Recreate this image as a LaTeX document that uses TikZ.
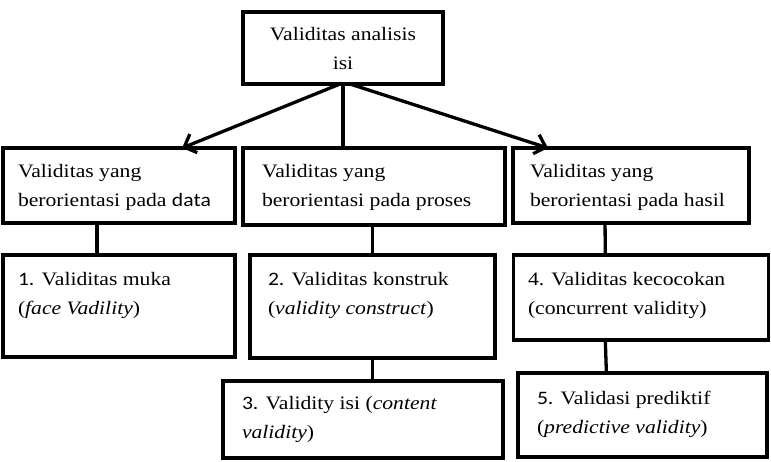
\documentclass[tikz,border=0pt]{standalone}
\usepackage{fontspec}
\setmainfont[FakeStretch=1.14]{Liberation Serif}
\newfontfamily\calfont[FakeStretch=1.14]{Carlito}
\usetikzlibrary{arrows.meta,calc}
\tikzset{
  box/.style={draw, line width=3.3pt, inner sep=0pt, outer sep=0pt},
  txt/.style={inner sep=0pt, outer sep=0pt, align=left, font=\fontsize{19}{29}\selectfont},
  link/.style={line width=3.3pt},
  arr/.style={line width=3.3pt, -{Straight Barb[length=10pt,width=20pt,line width=3.3pt]}}
}
\begin{document}
\begin{tikzpicture}[x=1pt,y=-1pt]
\useasboundingbox (0,0) rectangle (771,462);
% boxes
\node[box, minimum width=200, minimum height=72] (top) at (343,48) {};
\node[box, minimum width=232, minimum height=75] (d) at (119,185.5) {};
\node[box, minimum width=262, minimum height=77] (p) at (374,186.5) {};
\node[box, minimum width=236, minimum height=75] (h) at (631,185.5) {};
\node[box, minimum width=232, minimum height=102] (b1) at (119,306) {};
\node[box, minimum width=245, minimum height=103] (b2) at (372.5,306.5) {};
\node[box, minimum width=280, minimum height=77] (b3) at (363,419.5) {};
\node[box, minimum width=255, minimum height=85] (b4) at (641,297.5) {};
\node[box, minimum width=249, minimum height=84] (b5) at (642.5,415) {};
% texts (anchor = baseline of last line)
\node[txt, align=center, anchor=base] (ttop) at (343,70) {Validitas analisis\\isi};
\node[txt, anchor=base west] (td) at (18,207) {Validitas yang\\berorientasi pada {\calfont data}};
\node[txt, anchor=base west] (tp) at (262,207) {Validitas yang\\berorientasi pada proses};
\node[txt, anchor=base west] (th) at (530,207) {Validitas yang\\berorientasi pada hasil};
\node[txt, anchor=base west] (t1) at (18,315) {{\calfont 1.} Validitas muka\\(\textit{face Vadility})};
\node[txt, anchor=base west] (t2) at (268,315) {{\calfont 2.} Validitas konstruk\\(\textit{validity construct})};
\node[txt, anchor=base west] (t3) at (242,438) {{\calfont 3.} Validity isi (\textit{content}\\\textit{validity})};
\node[txt, anchor=base west] (t4) at (528,315) {4. Validitas kecocokan\\(concurrent validity)};
\node[txt, anchor=base west] (t5) at (537,433) {{\calfont 5.} Validasi prediktif\\(\textit{predictive validity})};
% connectors
\draw[arr] ([xshift=-3pt]top.south) -- ($(d.north west)!0.772!(d.north east)$);
\draw[link] (top.south) -- (top.south |- p.north);
\draw[arr] ([xshift=7pt]top.south) -- ($(h.north west)!0.148!(h.north east)$);
\draw[link] ($(d.south west)!0.405!(d.south east)$) -- ($(b1.north west)!0.405!(b1.north east)$);
\draw[link] (b2.north |- p.south) -- (b2.north);
\draw[link] (b2.south) -- (b2.south |- b3.north);
\draw[link] ($(h.south west)!0.39!(h.south east)$) -- ($(b4.north west)!0.36!(b4.north east)$);
\draw[link] ($(b4.south west)!0.36!(b4.south east)$) -- ($(b5.north west)!0.355!(b5.north east)$);
\end{tikzpicture}
\end{document}
